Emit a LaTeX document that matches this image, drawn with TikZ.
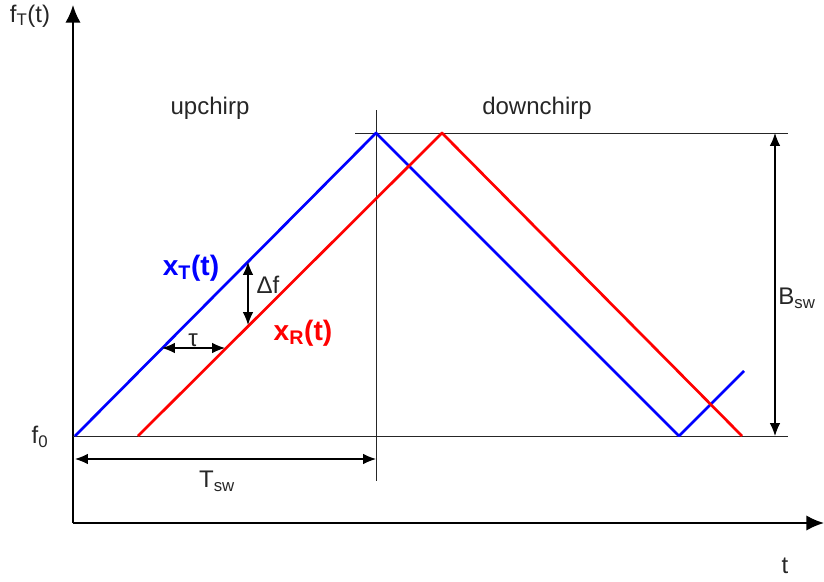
\documentclass[tikz,border=0pt]{standalone}
\usepackage{fontspec}
\setmainfont{Liberation Sans}
\usetikzlibrary{positioning,arrows.meta}

\begin{document}
\begin{tikzpicture}[x=0.03cm,y=-0.03cm,
    lbl/.style={text=black!85, font=\fontsize{20.5}{24}\selectfont},
    sig/.style={lbl, font=\fontsize{24}{28}\selectfont\bfseries},
    chirp/.style={line width=2.3pt, line join=round},
    guide/.style={line width=0.7pt, black!85},
    dim/.style={line width=1pt, {Latex[length=11pt,width=9pt]}-{Latex[length=11pt,width=9pt]}},
    axis/.style={line width=1.6pt, -{Latex[length=15pt,width=13pt]}}]
\useasboundingbox (0,0) rectangle (824,581);
% axes
\coordinate (O) at (73,523);
\coordinate (ytop) at (73,5);
\coordinate (xend) at (824,523);
\draw[axis] (O) -- (ytop);
\draw[axis] (O) -- (xend);
% reference lines
\coordinate (f0) at (73,436);
\coordinate (f0end) at (788,436);
\coordinate (ftop) at (355,133);
\coordinate (ftopend) at (788,133);
\coordinate (vtop) at (376,110);
\coordinate (vbot) at (376,481);
\draw[guide] (f0) -- (f0end);
\draw[guide] (ftop) -- (ftopend);
\draw[guide] (vtop) -- (vbot);
% transmitted and received chirps
\draw[chirp, blue] (75,436) -- (376,133) -- (679,436) -- (744,371);
\draw[chirp, red] (138,436) -- (442,133) -- (742,436);
% dimensions
\coordinate (tsL) at (75,459);
\coordinate (tsR) at (376,459);
\coordinate (bwB) at (775,436);
\coordinate (bwT) at (775,133);
\coordinate (tauL) at (162,348);
\coordinate (tauR) at (225,348);
\coordinate (dfT) at (248,262);
\coordinate (dfB) at (248,325);
\draw[dim] (tsL) -- (tsR);
\draw[dim] (bwB) -- (bwT);
\draw[dim] (tauL) -- (tauR);
\draw[dim] (dfT) -- (dfB);
% labels
\node[lbl] (fT) at (30,16) {f\textsubscript{T}(t)};
\node[lbl] (tlabel) at (785,566) {t};
\node[lbl] (f0lbl) at (40,437) {f\textsubscript{0}};
\node[lbl] (up) at (210,108) {upchirp};
\node[lbl] (down) at (537,108) {downchirp};
\node[lbl] (Tsw) at (217,481) {T\textsubscript{sw}};
\node[lbl] (Bsw) at (797,298) {B\textsubscript{sw}};
\node[lbl] (tau) at (193,340) {τ};
\node[lbl] (df) at (268,285) {Δf};
\node[sig, text=blue] (xT) at (191,268) {x\textsubscript{T}(t)};
\node[sig, text=red] (xR) at (303,333) {x\textsubscript{R}(t)};
\end{tikzpicture}
\end{document}
